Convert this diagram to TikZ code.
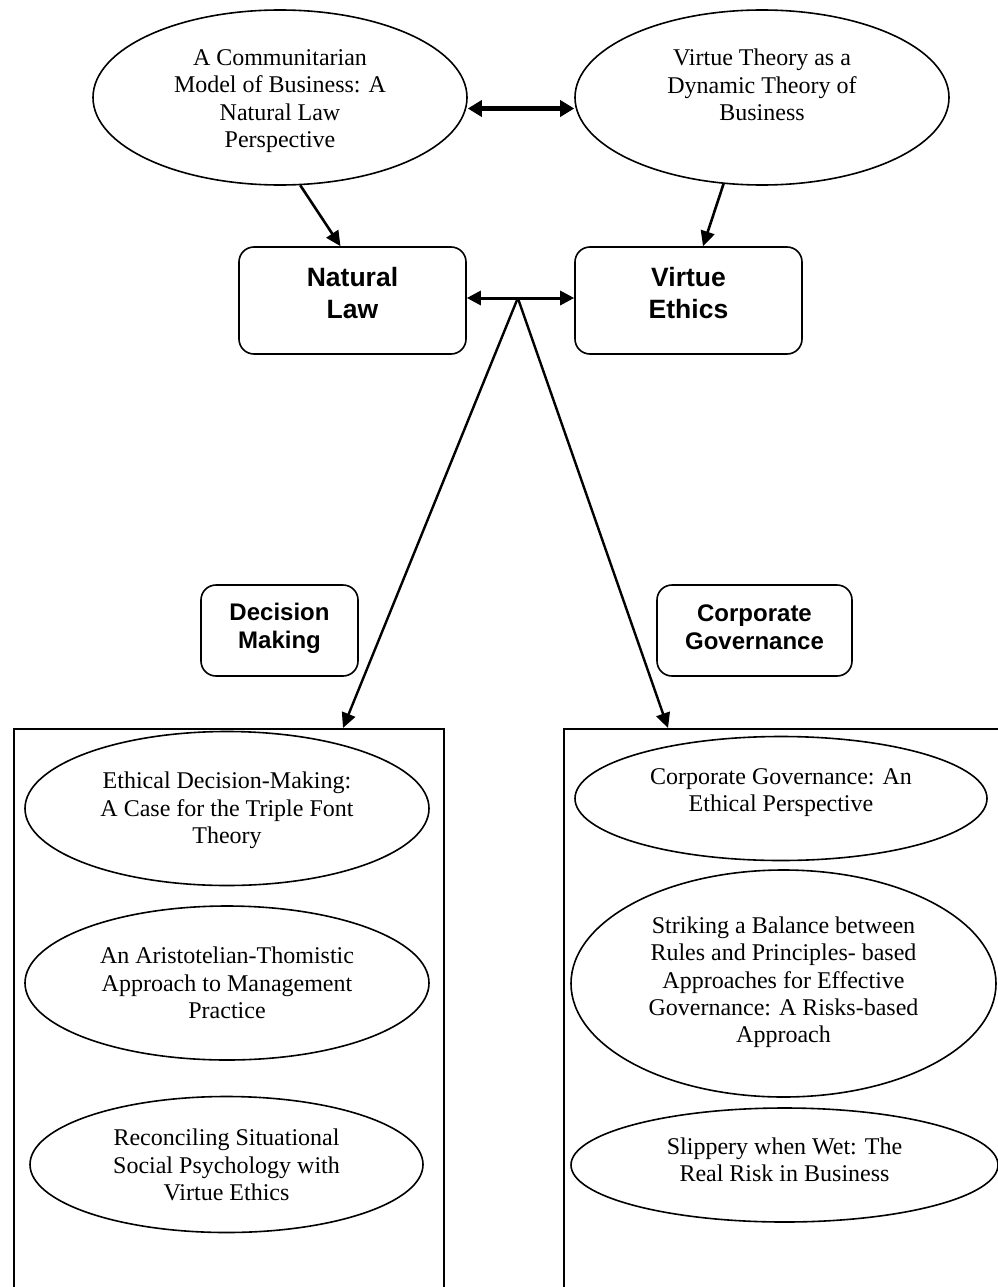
\documentclass[tikz,border=0pt]{standalone}
\usepackage{fontspec}
\setmainfont{Liberation Serif}
\setsansfont{Liberation Sans}
\usetikzlibrary{shapes.geometric,arrows.meta,calc}
\begin{document}
\begin{tikzpicture}[x=1pt,y=-1pt,
  ell/.style={draw, ellipse, line width=1.6pt, inner sep=0pt},
  etext/.style={align=center, inner sep=0pt, font=\fontsize{24}{27.3}\selectfont},
  rbox/.style={draw, rounded corners=15pt, line width=1.6pt, inner sep=0pt},
  btext/.style={align=center, inner sep=0pt, font=\fontsize{26.5}{32}\selectfont\sffamily\bfseries},
  bigbox/.style={draw, line width=2pt, inner sep=0pt, anchor=north west},
  dblthick/.style={{Triangle[length=14pt,width=16pt]}-{Triangle[length=14pt,width=16pt]}, line width=4.5pt},
  dblthin/.style={{Triangle[length=14pt,width=14pt]}-{Triangle[length=14pt,width=14pt]}, line width=3pt},
  arr/.style={-{Triangle[length=15pt,width=14pt]}, line width=2.6pt},
]
\useasboundingbox (0,0) rectangle (998,1287);
\clip (0,0) rectangle (998,1287);
\fill[white] (0,0) rectangle (998,1287);

% top ellipses
\node[ell, minimum width=374pt, minimum height=175pt] (e1) at (280,97.5) {};
\node[etext] (t1) at (280,101) {A Communitarian\\Model of Business: A\\Natural Law\\Perspective};
\node[ell, minimum width=374pt, minimum height=175pt] (e2) at (762,97.5) {};
\node[etext] (t2) at (762,85) {Virtue Theory as a\\Dynamic Theory of\\Business};

% rounded boxes
\node[rbox, minimum width=227pt, minimum height=107pt] (nl) at (352.5,300.5) {};
\node[btext] (nlt) at (352.5,293) {Natural\\Law};
\node[rbox, minimum width=227pt, minimum height=107pt] (ve) at (688.5,300.5) {};
\node[btext] (vet) at (688.5,293) {Virtue\\Ethics};

\node[rbox, minimum width=157pt, minimum height=91pt] (dm) at (279.5,630.5) {};
\node[btext, font=\fontsize{24}{28}\selectfont\sffamily\bfseries] (dmt) at (279.5,628) {Decision\\Making};
\node[rbox, minimum width=195pt, minimum height=91pt] (cg) at (754.5,630.5) {};
\node[btext, font=\fontsize{24}{28}\selectfont\sffamily\bfseries] (cgt) at (754.5,627) {Corporate\\Governance};

% big boxes
\node[bigbox, minimum width=430pt, minimum height=620pt] (lbox) at (13,728) {};
\node[bigbox, minimum width=480pt, minimum height=620pt] (rbx) at (563,728) {};

% left box ellipses
\node[ell, minimum width=404pt, minimum height=154pt] (l1) at (227,808.5) {};
\node[etext] (l1t) at (227,810.5) {Ethical Decision-Making:\\A Case for the Triple Font\\Theory};
\node[ell, minimum width=404pt, minimum height=154pt] (l2) at (227,983) {};
\node[etext] (l2t) at (227,983) {An Aristotelian-Thomistic\\Approach to Management\\Practice};
\node[ell, minimum width=393pt, minimum height=136pt] (l3) at (226.5,1164.5) {};
\node[etext] (l3t) at (226.5,1165) {Reconciling Situational\\Social Psychology with\\Virtue Ethics};

% right box ellipses
\node[ell, minimum width=412pt, minimum height=124pt] (r1) at (781,798.5) {};
\node[etext] (r1t) at (781,792.5) {Corporate Governance: An\\Ethical Perspective};
\node[ell, minimum width=425pt, minimum height=227pt] (r2) at (783.5,983.5) {};
\node[etext] (r2t) at (783.5,982.5) {Striking a Balance between\\Rules and Principles- based\\Approaches for Effective\\Governance: A Risks-based\\Approach};
\node[ell, minimum width=427pt, minimum height=114pt] (r3) at (784.5,1165) {};
\node[etext] (r3t) at (784.5,1160) {Slippery when Wet: The\\Real Risk in Business};

% connectors
\draw[dblthick] ($(e1.east)+(0,11)$) -- ($(e2.west)+(0,11)$);
\draw[arr] (e1.-77) -- ($(nl.north)+(-12,0)$);
\draw[arr] (e2.-114) -- ($(ve.north)+(14.5,0)$);
\draw[dblthin] ($(nl.east)+(0,-2.5)$) -- ($(ve.west)+(0,-2.5)$);
\coordinate (fork) at ($(nl.east)!0.475!(ve.west)+(0,-2.5)$);
\draw[arr, line width=2.4pt] (fork) -- ($(lbox.north west)+(330,0)$);
\draw[arr, line width=2.4pt] (fork) -- ($(rbx.north west)+(105,0)$);
\end{tikzpicture}
\end{document}
